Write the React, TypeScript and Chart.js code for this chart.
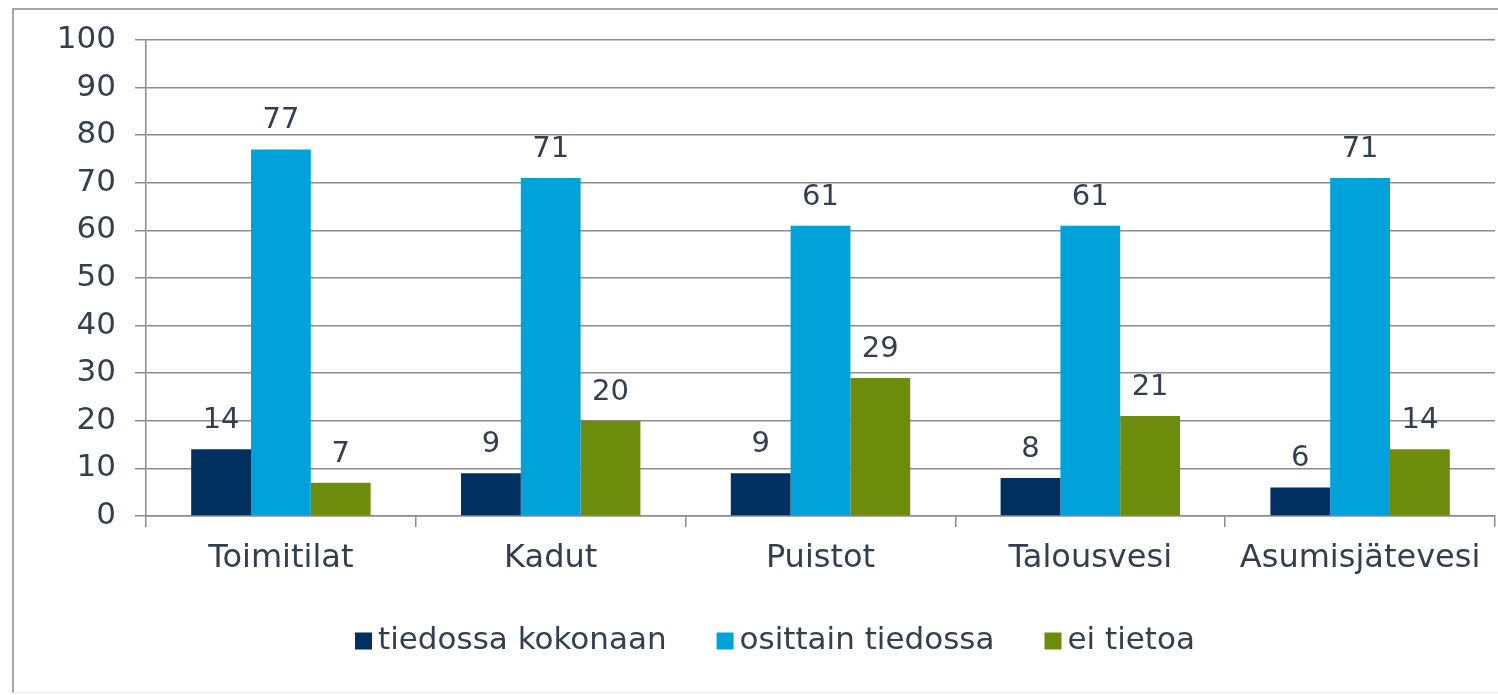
import React, { useEffect, useRef } from 'react';
import { Chart, registerables } from 'chart.js';

Chart.register(...registerables);

// ---- data ----
const categories = ['Toimitilat', 'Kadut', 'Puistot', 'Talousvesi', 'Asumisjätevesi'];
const seriesNames = ['tiedossa kokonaan', 'osittain tiedossa', 'ei tietoa'];
const tiedossaKokonaan = [14, 9, 9, 8, 6];
const osittainTiedossa = [77, 71, 61, 61, 71];
const eiTietoa = [7, 20, 29, 21, 14];
const yMin = 0;
const yMax = 100;
const yStep = 10;

// ---- styles ----
const COLORS = ['#00305f', '#00a2d9', '#6e8c0c'];
const TEXT = '#323f50';
const GRID = '#8c8c8c';
const FONT = '"DejaVu Sans", Verdana, sans-serif';
const W = 1498;
const H = 695;
const AXIS_LEFT = 146;
const AXIS_BOTTOM = 516;
const LEGEND_CX = 775;
const LEGEND_Y = 641;
const LEGEND_BOX = 17;
const LEGEND_GAP = 6;
const LEGEND_ITEM_SPACING = 50;
const LEGEND_FONT = 31;

const valueLabels = {
  id: 'valueLabels',
  afterDatasetsDraw(chart: any) {
    const { ctx } = chart;
    ctx.save();
    ctx.font = `29px ${FONT}`;
    ctx.fillStyle = TEXT;
    ctx.textAlign = 'center';
    ctx.textBaseline = 'alphabetic';
    chart.data.datasets.forEach((ds: any, i: number) => {
      chart.getDatasetMeta(i).data.forEach((bar: any, j: number) => {
        ctx.fillText(String(ds.data[j]), bar.x, bar.y - 21);
      });
    });
    ctx.restore();
  },
};

const rowLegend = {
  id: 'rowLegend',
  afterDraw(chart: any) {
    const { ctx } = chart;
    ctx.save();
    ctx.font = `${LEGEND_FONT}px ${FONT}`;
    const items = chart.data.datasets.map((ds: any) => ({
      label: ds.label as string,
      color: ds.backgroundColor as string,
      w: LEGEND_BOX + LEGEND_GAP + ctx.measureText(ds.label).width,
    }));
    const total =
      items.reduce((s: number, it: any) => s + it.w, 0) +
      LEGEND_ITEM_SPACING * (items.length - 1);
    let x = LEGEND_CX - total / 2;
    ctx.textBaseline = 'middle';
    ctx.textAlign = 'left';
    items.forEach((it: any) => {
      ctx.fillStyle = it.color;
      ctx.fillRect(x, LEGEND_Y - LEGEND_BOX / 2, LEGEND_BOX, LEGEND_BOX);
      ctx.fillStyle = TEXT;
      ctx.fillText(it.label, x + LEGEND_BOX + LEGEND_GAP, LEGEND_Y);
      x += it.w + LEGEND_ITEM_SPACING;
    });
    ctx.restore();
  },
};

export default function App() {
  const ref = useRef<HTMLCanvasElement>(null);

  useEffect(() => {
    if (!ref.current) return;
    const series = [tiedossaKokonaan, osittainTiedossa, eiTietoa];
    const chart = new Chart(ref.current, {
      type: 'bar',
      data: {
        labels: categories,
        datasets: series.map((d, i) => ({
          label: seriesNames[i],
          data: d,
          backgroundColor: COLORS[i],
          borderWidth: 0,
          categoryPercentage: 0.665,
          barPercentage: 1,
        })),
      },
      options: {
        animation: false,
        responsive: false,
        maintainAspectRatio: false,
        layout: { padding: { top: 40, right: 3, left: 0, bottom: 0 } },
        plugins: {
          legend: { display: false },
          tooltip: { enabled: false },
        },
        scales: {
          y: {
            min: yMin,
            max: yMax,
            ticks: {
              stepSize: yStep,
              color: TEXT,
              font: { family: FONT, size: 31 },
              padding: 19,
            },
            grid: { color: GRID, lineWidth: 1.5, tickLength: 11, drawTicks: true },
            border: { display: true, color: GRID, width: 1.5 },
            afterFit: (scale: any) => {
              scale.width = AXIS_LEFT;
            },
          },
          x: {
            ticks: {
              color: TEXT,
              font: { family: FONT, size: 32 },
              padding: 12,
              maxRotation: 0,
              autoSkip: false,
            },
            grid: {
              color: GRID,
              lineWidth: 1.5,
              drawOnChartArea: false,
              drawTicks: true,
              tickLength: 11,
              offset: true,
            },
            border: { display: true, color: GRID, width: 1.5 },
            afterFit: (scale: any) => {
              scale.height = H - AXIS_BOTTOM;
            },
          },
        },
      },
      plugins: [valueLabels, rowLegend],
    });
    return () => chart.destroy();
  }, []);

  return (
    <div
      style={{
        position: 'absolute',
        left: 0,
        top: 0,
        width: W,
        height: H,
        background: '#fff',
        overflow: 'hidden',
      }}
    >
      <div
        style={{
          position: 'absolute',
          left: 12,
          top: 8,
          width: W - 12,
          height: 685,
          borderLeft: '2px solid #a6a6a6',
          borderTop: '2px solid #a6a6a6',
          borderBottom: '1px solid #ececec',
          boxSizing: 'border-box',
        }}
      />
      <canvas
        ref={ref}
        width={W}
        height={H}
        style={{ position: 'absolute', left: 0, top: 0, width: W, height: H }}
      />
    </div>
  );
}
